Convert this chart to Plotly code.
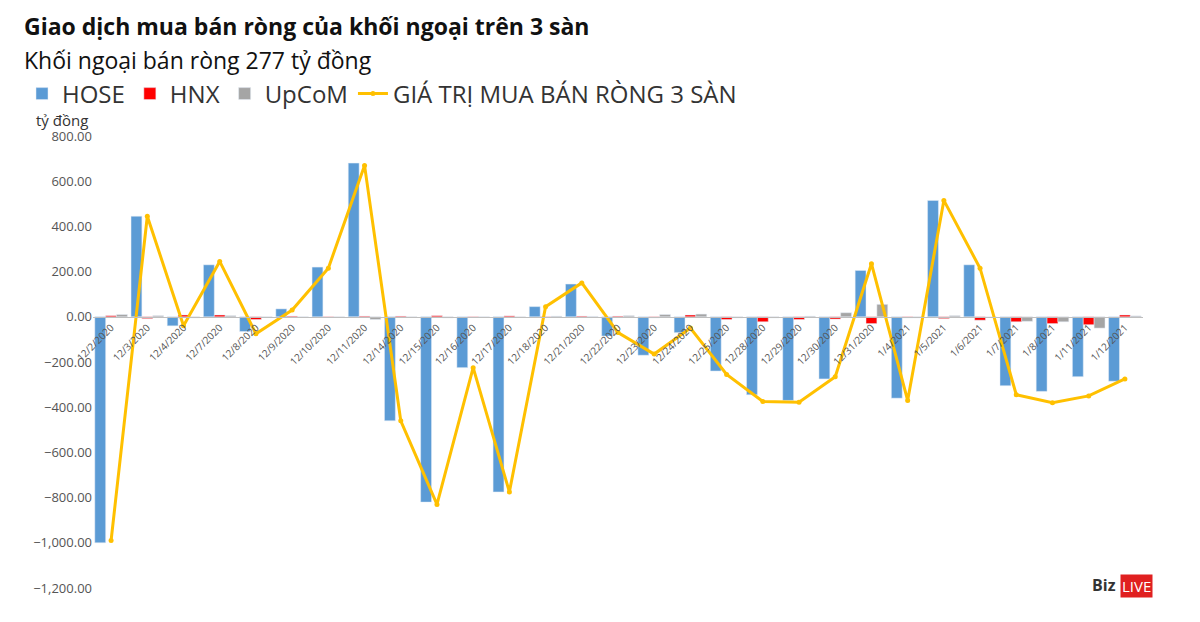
import plotly.graph_objects as go

dates = ["12/2/2020","12/3/2020","12/4/2020","12/7/2020","12/8/2020","12/9/2020","12/10/2020","12/11/2020",
         "12/14/2020","12/15/2020","12/16/2020","12/17/2020","12/18/2020","12/21/2020","12/22/2020","12/23/2020",
         "12/24/2020","12/25/2020","12/28/2020","12/29/2020","12/30/2020","12/31/2020","1/4/2021","1/5/2021",
         "1/6/2021","1/7/2021","1/8/2021","1/11/2021","1/12/2021"]
hose = [-1000,445,-40,230,-65,35,220,680,-460,-820,-225,-775,45,145,-85,-170,-70,-240,-345,-370,-275,205,-360,515,230,-305,-330,-265,-285]
hnx = [5,-8,8,8,-12,3,-3,3,3,5,-3,4,-3,3,3,-5,8,-12,-22,-12,-10,-30,-5,-8,-15,-22,-30,-35,8]
upcom = [10,5,-5,5,-3,-2,-2,-12,-3,-5,-2,-3,3,2,5,10,12,-5,-5,3,18,55,-5,5,0,-20,-22,-50,4]
total = [-990,445,-40,245,-75,30,215,670,-460,-830,-225,-775,45,150,-70,-165,-50,-255,-375,-378,-265,235,-370,515,215,-345,-380,-350,-275]

W, H = 1200, 622
L, R, T, B = 85, 65, 128, 42

fig = go.Figure()
fig.add_bar(x=dates, y=hose, name="HOSE", marker_color="#5B9BD5")
fig.add_bar(x=dates, y=hnx, name="HNX", marker_color="#FF0000")
fig.add_bar(x=dates, y=upcom, name="UpCoM", marker_color="#A5A5A5")
fig.add_scatter(x=dates, y=total, name="GIÁ TRỊ MUA BÁN RÒNG 3 SÀN", mode="lines+markers",
                line=dict(color="#FFC000", width=3), marker=dict(size=5, color="#FFC000"))

fig.update_layout(
    width=W, height=H, plot_bgcolor="white", paper_bgcolor="white",
    margin=dict(l=L, r=R, t=T, b=B, autoexpand=False),
    barmode="group", bargap=0.1, bargroupgap=0,
    font=dict(family="Open Sans, Calibri, sans-serif", color="#333"),
    legend=dict(orientation="h", x=14 / W, xanchor="left", xref="container",
                y=(H - 86) / H, yref="container", yanchor="middle",
                font=dict(size=24, color="#333"), traceorder="normal"),
    xaxis=dict(type="category", range=[-0.5, len(dates) - 0.5], tickangle=-45, anchor="free",
               position=0.6, showline=True, linecolor="#BFBFBF", ticks="",
               tickfont=dict(size=10, color="#555"), automargin=False),
    yaxis=dict(range=[-1200, 800], dtick=200, tickformat=",.2f", showgrid=False, zeroline=False,
               tickfont=dict(size=13, color="#555"), automargin=False),
)

def px(xp, yp):
    pw = W - L - R; ph = H - T - B
    return (xp - L) / pw, (H - B - yp) / ph

def ann(text, xp, yp, size, **kw):
    x, y = px(xp, yp)
    fig.add_annotation(text=text, xref="paper", yref="paper", x=x, y=y, showarrow=False,
                       font=dict(size=size, color=kw.pop("color", "#111")), **kw)

ann("<b>Giao dịch mua bán ròng của khối ngoại trên 3 sàn</b>", 14, 0, 23, xanchor="left", yanchor="top")
ann("Khối ngoại bán ròng 277 tỷ đồng", 14, 34, 23, xanchor="left", yanchor="top")
ann("tỷ đồng", 26, 100, 15, xanchor="left", yanchor="top", color="#333")
ann("<b>Biz</b>", 1110, 590, 16, xanchor="right", color="#333")
ann("LIVE", 1112, 590, 15, xanchor="left", bgcolor="#E02020", color="white", borderpad=1)
fig.write_html("out.html")
